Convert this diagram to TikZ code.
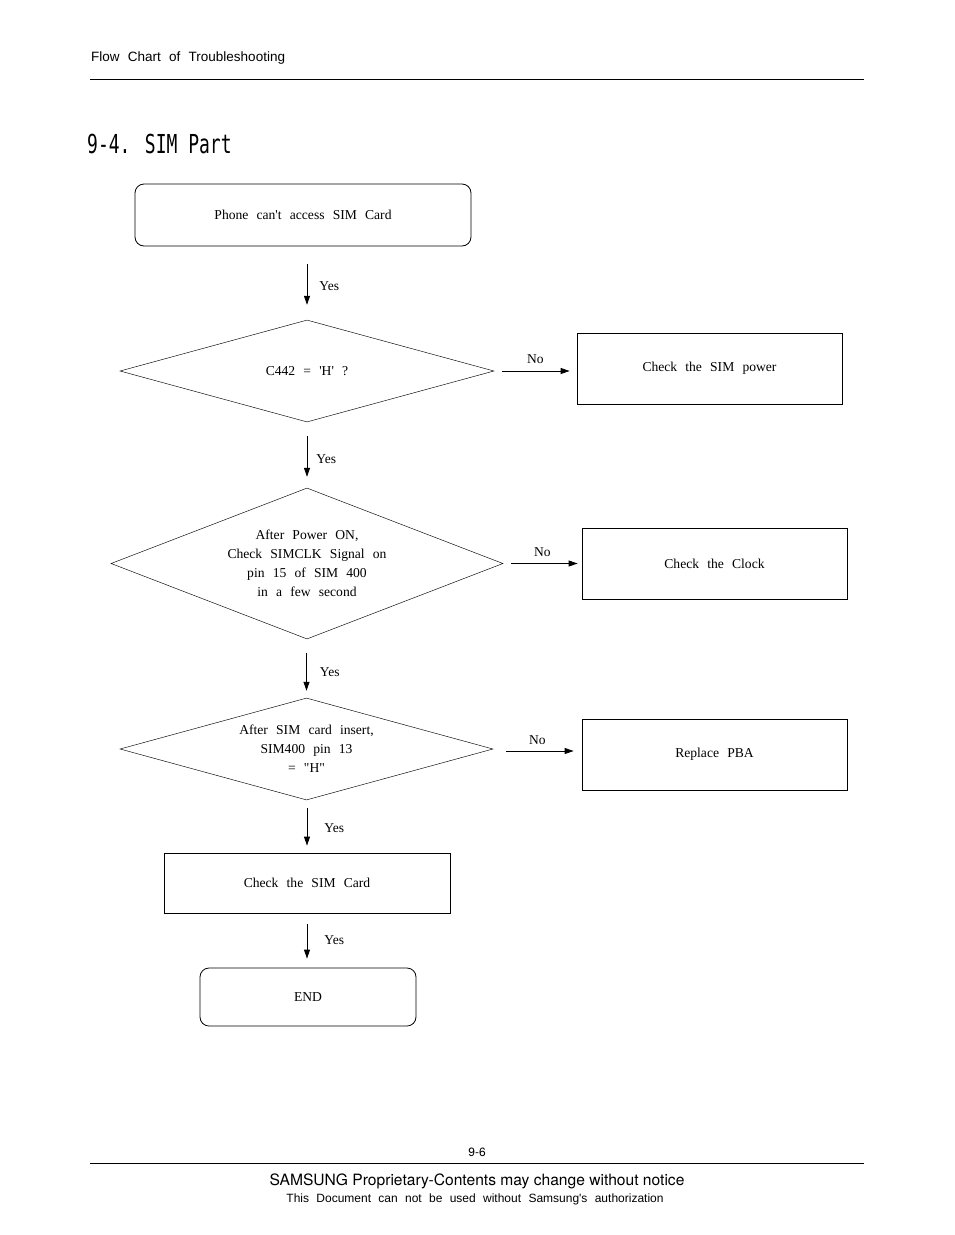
\documentclass[tikz,border=0pt]{standalone}
\usepackage{fontspec}
\usepackage{graphicx}
\setmainfont[WordSpace=2.4]{Liberation Serif}
\newfontfamily\arialf[WordSpace=2.2]{Liberation Sans}
\newfontfamily\arialplain{TeX Gyre Heros}
\newfontfamily\monof{DejaVu Sans Mono}
\usetikzlibrary{shapes.geometric,arrows.meta}
\begin{document}
\begin{tikzpicture}[x=1pt,y=-1pt,
  txt/.style={font=\fontsize{13.6}{19}\selectfont},
  lbl/.style={font=\fontsize{13.5}{15}\selectfont, inner sep=0pt},
  procbox/.style={draw, line width=0.8pt, inner sep=0pt, txt},
  rbox/.style={draw, line width=0.8pt, rounded corners=9pt, inner sep=0pt, txt},
  decision/.style={diamond, draw, line width=0.45pt, inner sep=0pt, align=center, txt},
  flowarrow/.style={-{Triangle[length=9pt,width=6pt]}, line width=0.8pt},
  rule/.style={line width=0.8pt}
]
\useasboundingbox[fill=white] (0,0) rectangle (954,1235);

% header
\node[anchor=west, inner sep=0pt, font=\arialf\fontsize{13.5}{15}\selectfont] (hdr) at (91,58) {Flow Chart of Troubleshooting};
\coordinate (hl) at (90,79);
\coordinate (hr) at (864,79);
\draw[rule] (hl) -- (hr);

% title
\node[anchor=west, inner sep=0pt, font=\monof\fontsize{18}{20}\selectfont] (title) at (87,144) {\scalebox{1}[1.45]{9-4. SIM Part}};

% flow nodes
\node[rbox, minimum width=336pt, minimum height=62pt] (start) at (303,215) {Phone can\textquotesingle t access SIM Card};
\node[decision, minimum width=374pt, minimum height=102pt, aspect=3.67] (d1) at (307,371) {C442 = \textquotesingle H\textquotesingle\ ?};
\node[procbox, minimum width=265pt, minimum height=71pt] (pow) at (709.5,368.5) {Check the SIM power};
\node[decision, minimum width=392pt, minimum height=151pt, aspect=2.6] (d2) at (307,563.5) {After Power ON,\\Check SIMCLK Signal on\\pin 15 of SIM 400\\ in a few second};
\node[procbox, minimum width=265pt, minimum height=71pt] (clk) at (714.5,563.5) {Check the Clock};
\node[decision, minimum width=373pt, minimum height=102pt, aspect=3.66] (d3) at (306.5,749) {After SIM card insert,\\SIM400 pin 13\\= \textquotedbl H\textquotedbl};
\node[procbox, minimum width=265pt, minimum height=71pt] (pba) at (714.5,754.5) {Replace PBA};
\node[procbox, minimum width=286pt, minimum height=60pt] (card) at (307,883) {Check the SIM Card};
\node[rbox, minimum width=216pt, minimum height=58pt] (endn) at (308,997) {END};

% connectors
\draw[flowarrow, shorten <=18pt, shorten >=15pt] (start.south -| d1.north) -- (d1.north) node[lbl, midway, right=12pt, yshift=-3pt] {Yes};
\draw[flowarrow, shorten <=8pt, shorten >=7pt] (d1.east) -- (d1.east -| pow.west) node[lbl, midway, above=7pt] {No};
\draw[flowarrow, shorten <=14pt, shorten >=11pt] (d1.south) -- (d2.north) node[lbl, midway, right=9pt, yshift=-4pt] {Yes};
\draw[flowarrow, shorten <=8pt, shorten >=4pt] (d2.east) -- (d2.east -| clk.west) node[lbl, midway, above=6pt] {No};
\draw[flowarrow, shorten <=14pt, shorten >=7pt] (d2.south -| d3.north) -- (d3.north) node[lbl, midway, right=13pt, yshift=-4pt] {Yes};
\draw[flowarrow, shorten <=13pt, shorten >=8pt] ([yshift=-2pt]d3.east) -- ([yshift=-2pt]d3.east -| pba.west) node[lbl, midway, above=6pt] {No};
\draw[flowarrow, shorten <=8pt, shorten >=7pt] (d3.south -| card.north) -- (card.north) node[lbl, midway, right=17pt, yshift=-2pt] {Yes};
\draw[flowarrow, shorten <=11pt, shorten >=9pt] (card.south) -- (card.south |- endn.north) node[lbl, midway, right=17pt] {Yes};

% footer
\node[inner sep=0pt, font=\arialplain\fontsize{12}{14}\selectfont] (pg) at (477,1152) {9-6};
\coordinate (fl) at (90,1163);
\coordinate (fr) at (864,1163);
\draw[rule] (fl) -- (fr);
\node[inner sep=0pt, font=\arialplain\fontsize{15.6}{17}\selectfont] (prop) at (477,1181) {SAMSUNG Proprietary-Contents may change without notice};
\node[inner sep=0pt, font=\arialf\fontsize{12}{13}\selectfont] (auth) at (475,1199) {This Document can not be used without Samsung\textquotesingle s authorization};
\end{tikzpicture}
\end{document}
